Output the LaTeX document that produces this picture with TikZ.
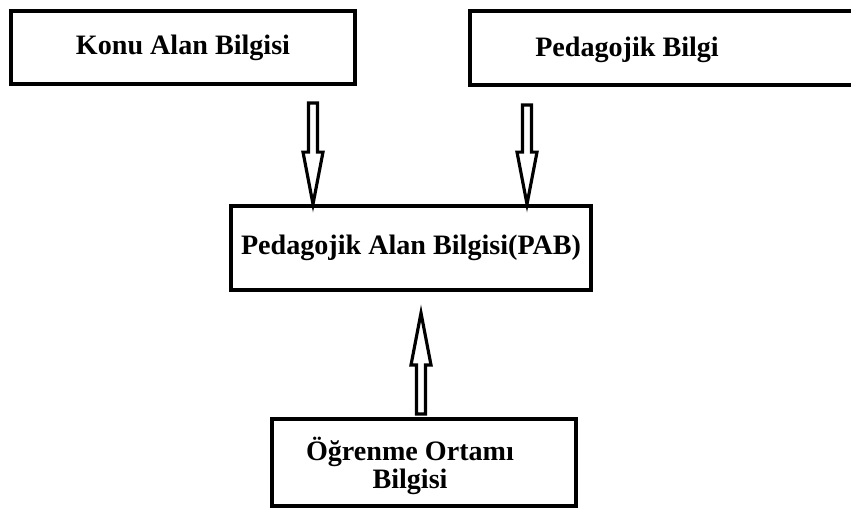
\documentclass[tikz,border=0pt]{standalone}
\usepackage{fontspec}
\setmainfont{Liberation Serif}
\usetikzlibrary{calc}

\begin{document}
\begin{tikzpicture}[x=0.02cm, y=-0.02cm]
    %tikz PAB
\tikzset{
    kutu/.style={draw, line width=2.2pt, rectangle, inner sep=0pt, font=\fontsize{16}{16}\selectfont\bfseries},
    yazi/.style={font=\fontsize{16}{16.2}\selectfont\bfseries, align=center, inner sep=0pt},
    blokok/.style={line width=1.8pt, line join=miter,
        to path={let \p1=($(\tikztotarget)!1.04cm!(\tikztostart)$) in
            ($(\tikztostart)!0.09cm!90:(\tikztotarget)$)
            -- ($(\p1)!0.09cm!90:(\tikztotarget)$)
            -- ($(\p1)!0.2cm!90:(\tikztotarget)$)
            -- (\tikztotarget)
            -- ($(\p1)!0.2cm!-90:(\tikztotarget)$)
            -- ($(\p1)!0.09cm!-90:(\tikztotarget)$)
            -- ($(\tikztostart)!0.09cm!-90:(\tikztotarget)$) -- cycle}
    }
}
    \useasboundingbox (0,0) rectangle (851,512);

    \node[kutu, minimum width=6.88cm, minimum height=1.46cm](KAB) at (183,47.5) {Konu Alan Bilgisi};
    \node[kutu, minimum width=7.72cm, minimum height=1.48cm](PB) at (663,48) {};
    \node[yazi](PBt) at (627,50) {Pedagojik Bilgi};
    \node[kutu, minimum width=7.2cm, minimum height=1.68cm](PAB) at (411,248) {Pedagojik Alan Bilgisi(PAB)};
    \node[kutu, minimum width=6.08cm, minimum height=1.74cm](OOB) at (424,462.5) {};
    \node[yazi](OOBt) at (410,466) {Öğrenme Ortamı\\Bilgisi};

    \coordinate (KABok) at (313,103);
    \coordinate (PBok) at (527,105);
    \coordinate (OOBok) at (421,414);
    \coordinate (PABuc) at (421,313);
    \draw[blokok] (KABok) to (KABok |- PAB.north);
    \draw[blokok] (PBok) to (PBok |- PAB.north);
    \draw[blokok] (OOBok) to (PABuc);
\end{tikzpicture}
\end{document}
